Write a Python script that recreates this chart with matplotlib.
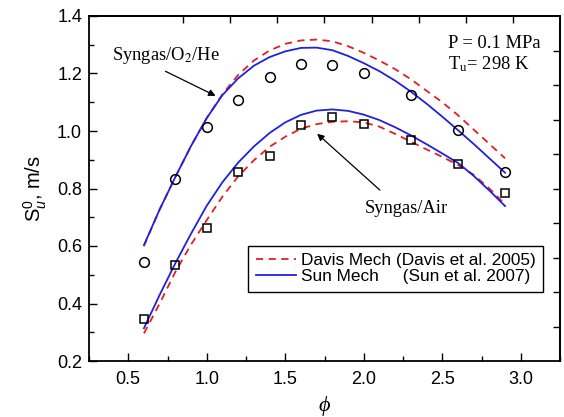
import numpy as np
import matplotlib
matplotlib.use('Agg')
import matplotlib.pyplot as plt
from matplotlib.ticker import MultipleLocator

plt.rcParams['font.family'] = ['Liberation Sans', 'DejaVu Sans']
plt.rcParams['mathtext.fontset'] = 'custom'
plt.rcParams['mathtext.rm'] = 'Liberation Sans'
plt.rcParams['mathtext.it'] = 'Liberation Sans:italic'

# measured points
phi_exp = [0.6, 0.8, 1.0, 1.2, 1.4, 1.6, 1.8, 2.0, 2.3, 2.6, 2.9]
he_exp = [0.544, 0.833, 1.015, 1.107, 1.188, 1.232, 1.230, 1.203, 1.125, 1.003, 0.859]
air_exp = [0.345, 0.535, 0.664, 0.856, 0.912, 1.021, 1.049, 1.023, 0.969, 0.885, 0.783]

# model curves
phi_mod = [0.6, 0.7, 0.8, 0.9, 1.0, 1.1, 1.2, 1.3, 1.4, 1.5, 1.6, 1.7, 1.8,
           1.9, 2.0, 2.1, 2.2, 2.3, 2.4, 2.5, 2.6, 2.7, 2.8, 2.9]
he_sun = [0.603, 0.727, 0.84, 0.948, 1.045, 1.125, 1.183, 1.227, 1.257, 1.277, 1.289, 1.29,
          1.281, 1.261, 1.236, 1.208, 1.175, 1.137, 1.095, 1.05, 1.003, 0.955, 0.905, 0.855]
he_davis = [0.60, 0.727, 0.84, 0.948, 1.045, 1.128, 1.195, 1.245, 1.28, 1.303, 1.315, 1.318,
            1.312, 1.295, 1.272, 1.245, 1.215, 1.18, 1.14, 1.10, 1.055, 1.005, 0.955, 0.905]
air_sun = [0.314, 0.43, 0.54, 0.643, 0.74, 0.822, 0.89, 0.946, 0.993, 1.03, 1.056, 1.071,
           1.075, 1.07, 1.057, 1.038, 1.013, 0.985, 0.954, 0.922, 0.889, 0.844, 0.793, 0.739]
air_davis = [0.296, 0.40, 0.51, 0.605, 0.69, 0.772, 0.842, 0.898, 0.945, 0.98, 1.008, 1.024,
             1.032, 1.034, 1.03, 1.015, 0.99, 0.963, 0.936, 0.91, 0.882, 0.848, 0.80, 0.745]

red = '#e02020'
blue = '#2020e0'
serif = ['Liberation Serif', 'DejaVu Serif']

fig = plt.figure(figsize=(5.64, 4.17), dpi=100)
ax = fig.add_axes([89/564, 56/417, 471/564, 345/417])

ax.plot(phi_mod, he_davis, '--', color=red, lw=1.3, dashes=(4, 3), label='Davis Mech (Davis et al. 2005)')
ax.plot(phi_mod, he_sun, '-', color=blue, lw=1.3, label='Sun Mech     (Sun et al. 2007)')
ax.plot(phi_mod, air_davis, '--', color=red, lw=1.3, dashes=(4, 3))
ax.plot(phi_mod, air_sun, '-', color=blue, lw=1.3)
ax.plot(phi_exp, he_exp, 'o', mfc='none', mec='black', ms=7, mew=1.1)
ax.plot(phi_exp, air_exp, 's', mfc='none', mec='black', ms=6.3, mew=1.1)

ax.set_xlim(0.25, 3.25)
ax.set_ylim(0.2, 1.4)
ax.xaxis.set_major_locator(MultipleLocator(0.5))
ax.xaxis.set_minor_locator(MultipleLocator(0.25))
ax.yaxis.set_major_locator(MultipleLocator(0.2))
ax.yaxis.set_minor_locator(MultipleLocator(0.1))
ax.tick_params(which='both', direction='in', width=1.0, labelsize=13)
ax.tick_params(which='major', length=6)
ax.tick_params(which='minor', length=3.5)
ax.tick_params(axis='x', pad=7)
ax.tick_params(axis='y', pad=5)
for s in ax.spines.values():
    s.set_linewidth(1.3)

# odd secondary ticks on top and right
top = ax.secondary_xaxis('top')
top.set_xticks(np.arange(0.85, 3.0, 0.3))
top.set_xticklabels([])
top.tick_params(direction='in', length=5, width=1.0)
right = ax.secondary_yaxis('right')
right.set_yticks(np.arange(0.32, 1.3, 0.12))
right.set_yticklabels([])
right.tick_params(direction='in', length=5, width=1.0)
top.spines['top'].set_linewidth(1.3)
right.spines['right'].set_linewidth(1.3)

ax.set_ylabel(r'S$_{\mathit{u}}^{\mathit{0}}$, m/s', fontsize=14.5, labelpad=6)
ax.set_xlabel('ϕ', fontsize=16, family=serif, style='italic', labelpad=6)

ax.text(0.397, 1.264, r'Syngas/O$_2$/He', fontsize=13.3, family=serif, va='center', math_fontfamily='stix')
ax.annotate('', xy=(1.072, 1.118), xytext=(0.721, 1.212),
            arrowprops=dict(arrowstyle='-|>', color='black', lw=0.9, mutation_scale=10))
ax.text(2.272, 0.732, 'Syngas/Air', fontsize=13.3, family=serif, ha='center', va='center')
ax.annotate('', xy=(1.69, 0.997), xytext=(2.116, 0.788),
            arrowprops=dict(arrowstyle='-|>', color='black', lw=0.9, mutation_scale=10))
ax.text(2.537, 1.306, 'P = 0.1 MPa', fontsize=13.3, family=serif, va='center')
ax.text(2.537, 1.233, r'T$_\mathregular{u}$= 298 K', fontsize=13.3, family=serif, va='center', math_fontfamily='stix')

leg = ax.legend(loc='lower left', bbox_to_anchor=(0.338, 0.2), fontsize=12.4,
                frameon=True, fancybox=False, edgecolor='black', framealpha=1,
                handlelength=2.3, handletextpad=0.3, borderpad=0.45, labelspacing=0.05,
                borderaxespad=0)
leg.get_frame().set_linewidth(1.0)

fig.savefig('out.png', dpi=100)
